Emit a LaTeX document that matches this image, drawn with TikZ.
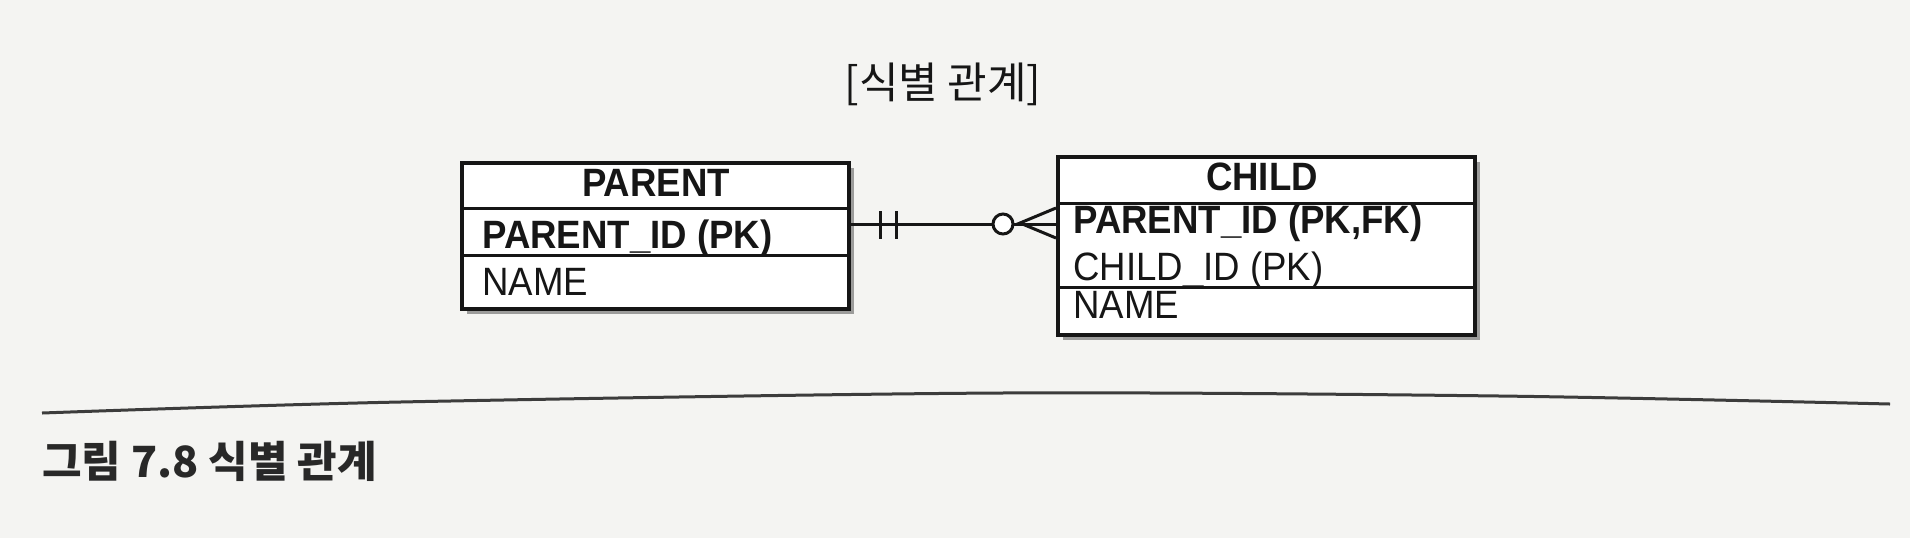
\documentclass[tikz,border=0pt]{standalone}
\usepackage{fontspec}
\usepackage{graphicx}
\setmainfont{Liberation Sans}
\newfontfamily\kr{Noto Sans CJK KR}
\usetikzlibrary{shadows}
\definecolor{paper}{RGB}{244,244,242}
\definecolor{ink}{RGB}{22,22,22}
\definecolor{capink}{RGB}{40,40,40}
\definecolor{rulecol}{RGB}{60,60,60}
\newcommand{\tall}[1]{\scalebox{1}[1.08]{#1}}
\begin{document}
\begin{tikzpicture}[x=0.5pt,y=-0.5pt,
  entity/.style={draw=ink, line width=1.9pt, fill=white, inner sep=0pt, anchor=north west,
    drop shadow={shadow xshift=2.5pt, shadow yshift=-2.5pt, opacity=0.45, fill=black!80}},
  divider/.style={draw=ink, line width=1.5pt},
  field/.style={anchor=base west, inner sep=0pt, text=ink, font=\fontsize{18.3}{20}\selectfont},
  etitle/.style={anchor=base, inner sep=0pt, text=ink, font=\bfseries\fontsize{18.3}{20}\selectfont},
  relline/.style={draw=ink, line width=1.5pt},
]
\useasboundingbox[fill=paper] (0,0) rectangle (1910,538);

% title
\node[inner sep=0pt, text=ink, font=\kr\fontsize{21.5}{26}\selectfont] (title) at (943,84) {[식별 관계]};

% PARENT entity
\node[entity, minimum width=193.5pt, minimum height=73pt] (parent) at (460,161) {};
\draw[divider] (parent.west |- 0,208) -- (parent.east |- 0,208);
\draw[divider] (parent.west |- 0,255) -- (parent.east |- 0,255);
\node[etitle] (ptitle) at (656,196) {\tall{PARENT}};
\node[field, font=\bfseries\fontsize{18.3}{20}\selectfont] (pid) at (482,248) {\tall{PARENT\_ID (PK)}};
\node[field] (pname) at (482,295) {\tall{NAME}};

% CHILD entity
\node[entity, minimum width=208.5pt, minimum height=89pt] (child) at (1056,155) {};
\draw[divider] (child.west |- 0,203) -- (child.east |- 0,203);
\draw[divider] (child.west |- 0,287) -- (child.east |- 0,287);
\node[etitle] (ctitle) at (1262,190) {\tall{CHILD}};
\node[field, font=\bfseries\fontsize{18.3}{20}\selectfont] (cpid) at (1073,233) {\tall{PARENT\_ID (PK,FK)}};
\node[field] (ccid) at (1073,280) {\tall{CHILD\_ID (PK)}};
\node[field] (cname) at (1073,318) {\tall{NAME}};

% relationship
\coordinate (rel) at (0,224);
\draw[relline] (parent.east |- rel) -- (child.west |- rel);
\draw[relline] (880,211) -- (880,239);
\draw[relline] (896,211) -- (896,239);
\draw[relline, fill=white] (1003,224) circle[radius=5pt];
\draw[relline] (child.west |- 0,208) -- (1020,223) -- (child.west |- 0,238);

% rule and caption
\draw[rulecol, line width=1.5pt] plot[smooth] coordinates {(42,413) (400,402) (1000,393) (1500,396) (1890,404)};
\node[anchor=west, inner sep=0pt, text=capink, font=\kr\bfseries\fontsize{21.5}{26}\selectfont] (caption) at (42,461) {그림 7.8 식별 관계};
\end{tikzpicture}
\end{document}
